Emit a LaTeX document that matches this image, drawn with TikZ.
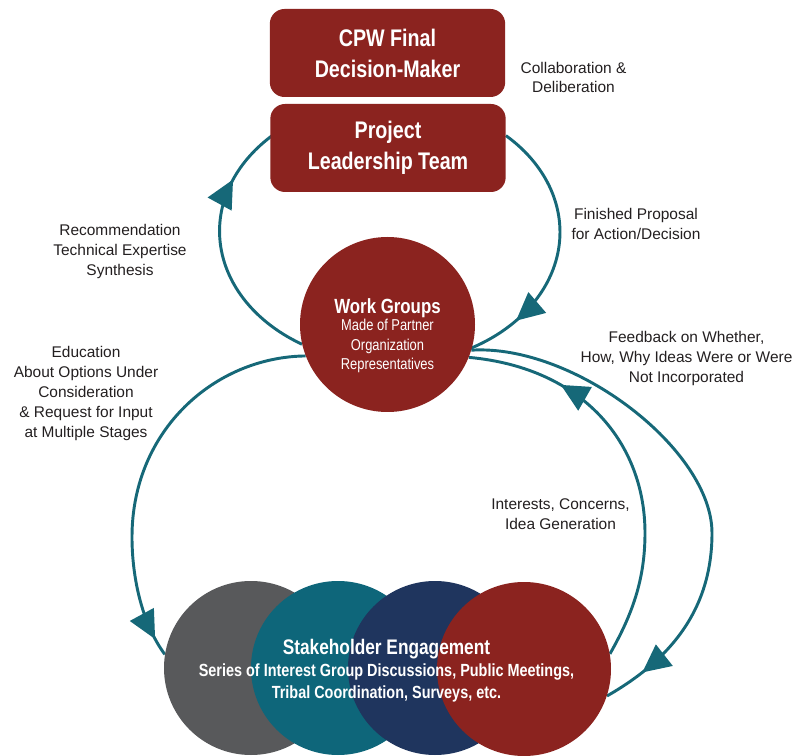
\documentclass[tikz,border=0pt]{standalone}
\usepackage{fontspec}
\setmainfont{Liberation Sans}
\newfontfamily\condfont[FakeStretch=0.82]{Liberation Sans}
\usetikzlibrary{arrows.meta,decorations.markings,backgrounds}
\definecolor{boxred}{RGB}{139,35,31}
\definecolor{arrteal}{RGB}{22,104,120}
\definecolor{sgray}{RGB}{88,89,91}
\definecolor{steal}{RGB}{14,102,122}
\definecolor{snavy}{RGB}{31,53,94}
\definecolor{sred}{RGB}{139,35,31}
\definecolor{txtcol}{RGB}{35,31,32}
\begin{document}
\begin{tikzpicture}[x=0.75pt,y=-0.75pt,
  box/.style={fill=boxred, rounded corners=11pt, minimum width=176.5pt, minimum height=66pt,
    inner sep=0pt, text=white, align=center,
    font=\condfont\bfseries\fontsize{18pt}{23.25pt}\selectfont},
  disc/.style={circle, minimum size=130.5pt, inner sep=0pt},
  lbl/.style={align=center, text=txtcol, inner sep=0pt,
    font=\fontsize{11.6pt}{15pt}\selectfont},
  flow/.style={color=arrteal, line width=2.2pt},
  tipat/.style={postaction={decorate}, decoration={markings,
    mark=at position #1 with {\arrow{Triangle[length=21pt,width=20pt]}}}},
]
\useasboundingbox (0,0) rectangle (794,756);

% top boxes
\node[box] (cpw) at (387.5,53) {CPW Final\\Decision-Maker};
\node[box] (plt) at (388,148) {Project\\Leadership Team};

% work groups
\node[disc, fill=boxred, minimum size=131.25pt] (wg) at (387.5,324.5) {};
\node[align=center, text=white, inner sep=0pt,
  font=\condfont\fontsize{11.8pt}{14.6pt}\selectfont] (wgtxt) at (387.5,336)
  {{\bfseries\fontsize{15.4pt}{15pt}\selectfont Work Groups}\\[-2pt]
   Made of Partner\\Organization\\Representatives};

% stakeholder circles
\node[disc, fill=sgray] (sg) at (251,668) {};
\node[disc, fill=steal] (st) at (338,668) {};
\node[disc, fill=snavy] (sn) at (435,668) {};
\node[disc, fill=sred]  (sr) at (524,669) {};
\node[align=center, text=white, inner sep=0pt,
  font=\condfont\bfseries\fontsize{13.2pt}{16.5pt}\selectfont] (shtxt) at (386.5,671)
  {{\fontsize{15.8pt}{16.5pt}\selectfont Stakeholder Engagement}\\
   Series of Interest Group Discussions, Public Meetings,\\
   Tribal Coordination, Surveys, etc.};

% labels
\node[lbl] (collab) at (573.5,77) {Collaboration \&\\[-0.75pt]Deliberation};
\node[lbl] (rec) at (120,251.5) {Recommendation\\Technical Expertise\\Synthesis};
\node[lbl] (fin) at (636,224) {Finished Proposal\\for Action/Decision};
\node[lbl] (fb) at (686.5,358.5) {Feedback on Whether,\\How, Why Ideas Were or Were\\Not Incorporated};
\node[lbl] (edu) at (86,394) {Education\\About Options Under\\Consideration\\\& Request for Input\\at Multiple Stages};
\node[lbl] (int) at (560.5,514.5) {Interests, Concerns,\\Idea Generation};

% connectors
\begin{scope}[on background layer]
  \draw[flow, tipat=0.76] (wg.193) arc[start angle=121, end angle=228, x radius=170, y radius=132];
  \draw[flow, tipat=0.80] (plt.6) arc[start angle=-47, end angle=62, x radius=170, y radius=132];
  \draw[flow, tipat=0.955] (wg.201) .. controls (215,357) and (132,430) .. (132,537)
        .. controls (132,580) and (143,625) .. (sg.171);
  \draw[flow, tipat=0.92] (wg.-17) .. controls (575,344) and (712,450) .. (712,533)
        .. controls (712,610) and (670,660) .. (sr.-18);
  \draw[flow, tipat=0.76] (sr.10) .. controls (632,615) and (645,580) .. (645,533)
        .. controls (645,445) and (585,368) .. (wg.-22);
\end{scope}
\end{tikzpicture}
\end{document}
